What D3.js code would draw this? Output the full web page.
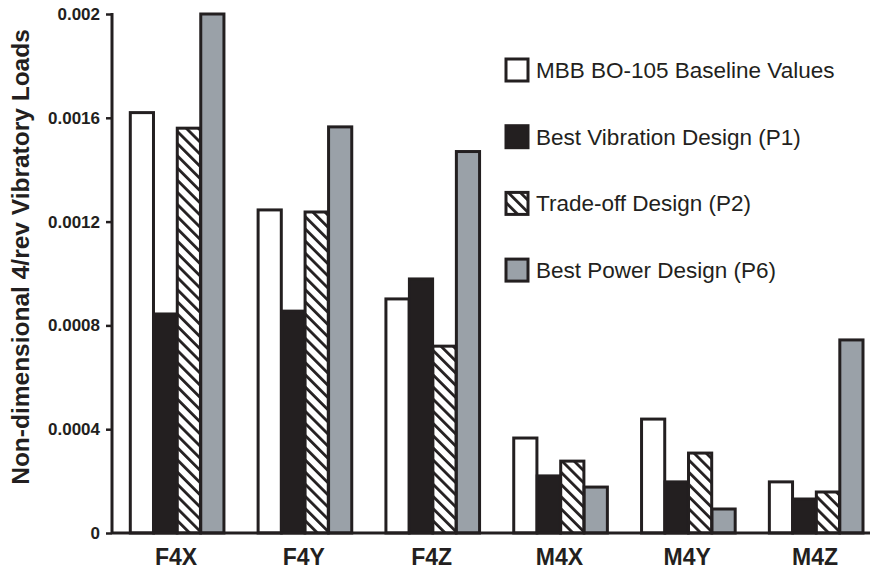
<!DOCTYPE html>
<meta charset="utf-8">
<head>
  <title>4/rev vibratory loads</title>
</head>
<style>
body { margin: 0; background: #fff; }
text { font-family: "Liberation Sans", Arial, sans-serif; fill: #231f20; }
</style>
<body>
<svg width="870" height="569"></svg>
<script src="https://cdnjs.cloudflare.com/ajax/libs/d3/7.8.5/d3.min.js"></script>
<script>

// data
var categories = ["F4X", "F4Y", "F4Z", "M4X", "M4Y", "M4Z"];
var seriesNames = ["MBB BO-105 Baseline Values", "Best Vibration Design (P1)",
                   "Trade-off Design (P2)", "Best Power Design (P6)"];
var baseline = [0.00162, 0.001245, 0.000902, 0.000366, 0.000439, 0.000197];
var bestVib  = [0.000844, 0.000855, 0.000979, 0.00022, 0.000197, 0.000131];
var tradeOff = [0.00156, 0.001237, 0.00072, 0.000277, 0.000308, 0.000158];
var bestPow  = [0.002, 0.001565, 0.00147, 0.000177, 0.0000925, 0.000744];
var yTicks = [0, 0.0004, 0.0008, 0.0012, 0.0016, 0.002];
var yTickLabels = ["0", "0.0004", "0.0008", "0.0012", "0.0016", "0.002"];

var series = [baseline, bestVib, tradeOff, bestPow];
var ink = "#231f20";
var fills = ["#fff", ink, "url(#hatch)", "#9aa1a8"];

var svg = d3.select("svg");

// hatch pattern for the trade-off bars
var defs = svg.append("defs");
var pat = defs.append("pattern")
    .attr("id", "hatch")
    .attr("patternUnits", "userSpaceOnUse")
    .attr("width", 8.6).attr("height", 8.6)
    .attr("patternTransform", "rotate(-45)");
pat.append("rect").attr("width", 8.6).attr("height", 8.6).attr("fill", "#fff");
pat.append("line").attr("x1", 0).attr("y1", 0).attr("x2", 0).attr("y2", 8.6)
    .attr("stroke", ink).attr("stroke-width", 5.6);

var plotL = 112, plotR = 879, plotT = 14, plotB = 533;

var x0 = d3.scaleBand().domain(categories).range([plotL, plotR])
    .paddingInner(0.265).paddingOuter(0.133);
var x1 = d3.scaleBand().domain(d3.range(series.length)).range([0, x0.bandwidth()]);
var y = d3.scaleLinear().domain([0, 0.002]).range([plotB, plotT]);

// bars
var groups = svg.append("g").selectAll("g")
    .data(categories)
    .join("g")
    .attr("transform", d => "translate(" + x0(d) + ",0)");

groups.selectAll("rect")
    .data((d, i) => series.map((s, k) => ({k: k, v: s[i]})))
    .join("rect")
    .attr("x", d => x1(d.k) + 1.3)
    .attr("width", x1.bandwidth() - 0.3)
    .attr("y", d => y(d.v))
    .attr("height", d => plotB - y(d.v))
    .attr("fill", d => fills[d.k])
    .attr("stroke", ink)
    .attr("stroke-width", 3);

// y axis
var yAxis = svg.append("g")
    .attr("transform", "translate(" + plotL + ",0)")
    .call(d3.axisLeft(y).tickValues(yTicks)
        .tickFormat((d, i) => yTickLabels[i]).tickSize(6).tickPadding(6));
yAxis.select(".domain").attr("stroke", ink).attr("stroke-width", 3)
    .attr("d", "M0," + (plotT - 1) + "V" + (plotB + 1));
yAxis.selectAll(".tick line").attr("stroke", ink).attr("stroke-width", 2.5);
yAxis.selectAll(".tick text")
    .style("font-size", "17px").style("font-weight", "bold")
    .attr("fill", ink).attr("font-family", null);

// x axis line
svg.append("line")
    .attr("x1", plotL).attr("x2", 870)
    .attr("y1", plotB).attr("y2", plotB)
    .attr("stroke", ink).attr("stroke-width", 3);

// category labels
svg.append("g").selectAll("text")
    .data(categories)
    .join("text")
    .attr("x", d => x0(d) + x0.bandwidth() / 2)
    .attr("y", 565)
    .attr("text-anchor", "middle")
    .style("font-size", "23px").style("font-weight", "bold")
    .text(d => d);

// y title
svg.append("text")
    .attr("transform", "translate(29,257) rotate(-90)")
    .attr("text-anchor", "middle")
    .style("font-size", "24.5px").style("font-weight", "bold")
    .text("Non-dimensional 4/rev Vibratory Loads");

// legend
var legend = svg.append("g").selectAll("g")
    .data(seriesNames)
    .join("g")
    .attr("transform", (d, i) => "translate(506," + (59 + i * 66.7) + ")");
legend.append("rect")
    .attr("width", 22).attr("height", 22)
    .attr("fill", (d, i) => fills[i])
    .attr("stroke", ink).attr("stroke-width", 3);
legend.append("text")
    .attr("x", 30).attr("y", 19)
    .style("font-size", "22.5px")
    .text(d => d);

</script>
</body>
</html>
